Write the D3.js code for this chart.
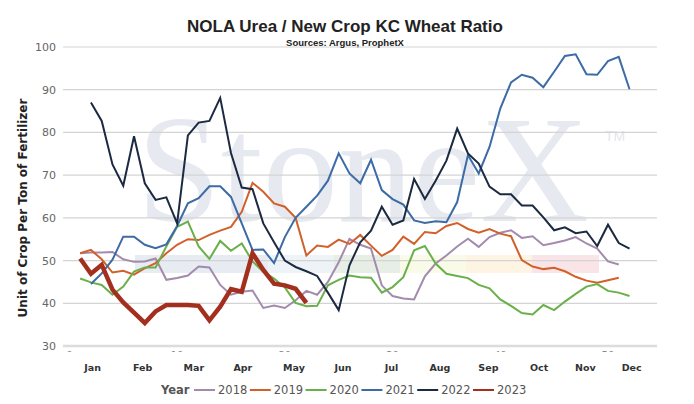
<!DOCTYPE html>
<html>
<head>
<meta charset="utf-8">
<script src="https://cdn.jsdelivr.net/npm/d3@7"></script>
<style>
body { margin: 0; background: #fff; }
text { font-family: "DejaVu Sans", Verdana, sans-serif; }
</style>
</head>
<body>
<svg id="chart"></svg>
<script>
// DATA - weekly ratio, one array per year
var years = ["2018", "2019", "2020", "2021", "2022", "2023"];
var firstWeek = [1, 1, 1, 2, 2, 1];

var ratio2018 = [51.7, 51.9, 51.9, 52.0, 50.3, 49.7, 49.8, 50.5, 45.5, 45.9, 46.5, 48.6, 48.4, 44.3, 42.0, 42.7, 43.0, 38.9, 39.5, 38.9,
	40.7, 42.9, 42.0, 45.0, 49.6, 55.1, 53.7, 52.8, 44.2, 41.7, 41.1, 40.9, 46.3, 49.3, 51.2, 53.3, 55.1, 53.2, 55.5, 56.5,
	57.1, 55.3, 55.7, 53.6, 54.1, 54.7, 55.5, 54.0, 52.8, 49.8, 49.1];
var ratio2019 = [51.7, 52.5, 50.3, 47.2, 47.6, 46.7, 48.2, 49.4, 51.7, 53.7, 55.0, 54.8, 56.0, 57.0, 57.9, 61.4, 68.2, 66.1, 63.4, 62.6,
	60.0, 51.2, 53.5, 53.2, 54.9, 53.9, 56.0, 53.5, 51.1, 52.5, 55.6, 53.9, 56.7, 56.4, 58.1, 58.8, 57.4, 56.5, 57.4, 56.3,
	55.7, 50.1, 48.6, 48.0, 48.3, 47.5, 46.2, 45.3, 44.8, 45.4, 46.0];
var ratio2020 = [45.8, 44.9, 44.3, 42.0, 43.9, 47.4, 48.4, 48.4, 53.3, 57.9, 59.1, 53.3, 50.4, 54.6, 52.3, 54.0, 49.8, 47.4, 45.8, 43.7,
	40.1, 39.3, 39.4, 44.2, 45.5, 46.5, 46.1, 46.0, 42.5, 43.8, 46.1, 52.4, 53.4, 49.3, 46.9, 46.4, 45.9, 44.3, 43.5, 40.9,
	39.4, 37.7, 37.4, 39.6, 38.4, 40.4, 42.2, 43.9, 44.5, 42.9, 42.5, 41.7];
var ratio2021 = [44.5, 47.0, 50.2, 55.6, 55.6, 53.7, 52.9, 53.8, 58.1, 63.4, 64.6, 67.4, 67.4, 64.9, 58.7, 52.5, 52.6, 49.4, 55.5,
	60.0, 62.6, 65.2, 68.7, 75.1, 70.4, 68.1, 73.6, 66.5, 64.4, 63.1, 59.4, 58.8, 59.2, 59.0, 63.7, 74.7, 70.4, 76.6, 85.6,
	91.7, 93.5, 92.8, 90.6, 94.2, 97.9, 98.3, 93.6, 93.5, 96.7, 97.7, 90.1];
var ratio2022 = [87.0, 82.7, 72.5, 67.5, 79.1, 68.1, 64.2, 64.8, 58.7, 79.3, 82.3, 82.7, 88.1, 75.2, 67.1, 66.7, 58.7, 54.3, 50.0,
	48.5, 47.5, 46.4, 42.5, 38.4, 48.9, 54.3, 57.0, 62.6, 58.4, 59.4, 69.1, 64.4, 68.7, 73.4, 80.9, 75.1, 72.7, 67.3, 65.5,
	65.5, 62.9, 62.9, 60.1, 57.1, 57.8, 56.4, 56.8, 53.4, 58.4, 54.1, 52.8];
var ratio2023 = [50.5, 46.9, 49.0, 43.2, 40.2, 37.8, 35.4, 38.1, 39.6, 39.6, 39.6, 39.4, 36.0, 39.2, 43.3, 42.7, 51.7, 47.8, 44.6, 44.2,
	43.4, 40.1];

var seriesValues = [ratio2018, ratio2019, ratio2020, ratio2021, ratio2022, ratio2023];

// AXIS LABELS
var monthLabels = ["Jan", "Feb", "Mar", "Apr", "May", "Jun", "Jul", "Aug", "Sep", "Oct", "Nov", "Dec"];
var monthWeeks = [2.15, 6.8, 11.55, 16.1, 20.85, 25.4, 29.9, 34.4, 38.9, 43.6, 47.9, 52.2];
var weekTicks = [0, 10, 20, 30, 40, 50];
var yTicks = [30, 40, 50, 60, 70, 80, 90, 100];

var colors = ["#a38bad", "#d2602b", "#6ab04a", "#3c6ba5", "#1b2a40", "#a3301f"];
var widths = [2, 2, 2, 2, 2, 4.5];

// DRAWING AREA
var W = 694, H = 404;
var plotLeft = 69.4, plotRight = 657, plotTop = 47, plotBottom = 346;

var svg = d3.select("#chart").attr("width", W).attr("height", H);

var xScale = d3.scaleLinear().domain([0, 54.55]).range([plotLeft, plotRight]);
var yScale = d3.scaleLinear().domain([30, 100]).range([plotBottom, plotTop]);

// WATERMARK
var wm = svg.append("g").attr("class", "watermark");
wm.append("text")
	.attr("x", 137).attr("y", 221)
	.attr("textLength", 452).attr("lengthAdjust", "spacingAndGlyphs")
	.style("font-family", "'Liberation Serif', 'DejaVu Serif', serif")
	.style("font-size", "153px")
	.style("fill", "#e6e9ef")
	.text("StoneX");
wm.append("text")
	.attr("x", 605).attr("y", 141)
	.style("font-family", "'Liberation Sans', Arial, sans-serif")
	.style("font-size", "14px")
	.style("fill", "#e3e6eb")
	.text("TM");
var bandCols = ["#e7ebf2", "#eef3f8", "#e6eee6", "#fafae9", "#fdf4e4", "#f9e5e8"];
var bandX = [135, 268, 334, 400, 466, 532, 599];
bandCols.forEach(function (c, i) {
	wm.append("rect")
		.attr("x", bandX[i]).attr("y", 255)
		.attr("width", bandX[i + 1] - bandX[i]).attr("height", 18)
		.style("fill", c);
});

// GRIDLINES + Y LABELS
svg.append("g").selectAll("line.grid")
	.data(yTicks)
	.enter().append("line")
	.attr("class", "grid")
	.attr("x1", 63).attr("x2", plotRight)
	.attr("y1", d => yScale(d)).attr("y2", d => yScale(d))
	.style("stroke", d => d == 30 ? "#dcdcdc" : "#d4d4d4")
	.style("stroke-width", d => d == 30 ? 2.5 : 1.2);

svg.append("g").selectAll("text.ylab")
	.data(yTicks)
	.enter().append("text")
	.attr("class", "ylab")
	.attr("x", 56).attr("y", d => yScale(d) + 4)
	.style("text-anchor", "end")
	.style("font-size", "11px")
	.style("fill", "#666")
	.text(d => d);

// hidden week numbers, only their tops peek out under the axis
svg.append("clipPath").attr("id", "weekclip")
	.append("rect").attr("x", 0).attr("y", 348).attr("width", W).attr("height", 4);
svg.append("g").attr("clip-path", "url(#weekclip)")
	.selectAll("text")
	.data(weekTicks)
	.enter().append("text")
	.attr("x", d => xScale(d)).attr("y", 359)
	.style("text-anchor", "middle")
	.style("font-size", "10px")
	.style("fill", "#888")
	.text(d => d);

// MONTH LABELS
svg.append("g").selectAll("text.month")
	.data(monthLabels)
	.enter().append("text")
	.attr("class", "month")
	.attr("x", (d, i) => xScale(monthWeeks[i])).attr("y", 371)
	.style("text-anchor", "middle")
	.style("font-size", "9.5px")
	.style("font-weight", "bold")
	.style("fill", "#333")
	.text(d => d);

// LINES
var line = d3.line()
	.x(d => xScale(d.w))
	.y(d => yScale(d.v));

var lineData = years.map(function (yr, k) {
	return seriesValues[k].map(function (v, i) { return { w: firstWeek[k] + i, v: v }; });
});

svg.append("g").selectAll("path.year")
	.data(lineData)
	.enter().append("path")
	.attr("class", "year")
	.attr("d", line)
	.style("fill", "none")
	.style("stroke", (d, i) => colors[i])
	.style("stroke-width", (d, i) => widths[i])
	.style("stroke-linejoin", "miter");

// TITLES
svg.append("text")
	.attr("x", 345).attr("y", 32)
	.style("text-anchor", "middle")
	.style("font-family", "'Liberation Sans', Arial, sans-serif")
	.style("font-size", "17px")
	.style("font-weight", "bold")
	.style("fill", "#222")
	.text("NOLA Urea / New Crop KC Wheat Ratio");

svg.append("text")
	.attr("x", 345).attr("y", 46)
	.style("text-anchor", "middle")
	.style("font-family", "'Liberation Sans', Arial, sans-serif")
	.style("font-size", "9.5px")
	.style("font-weight", "bold")
	.style("fill", "#222")
	.text("Sources: Argus, ProphetX");

svg.append("text")
	.attr("transform", "translate(27,208) rotate(-90)")
	.style("text-anchor", "middle")
	.style("font-size", "12px")
	.style("font-weight", "bold")
	.style("fill", "#222")
	.text("Unit of Crop Per Ton of Fertilizer");

// LEGEND
var legend = svg.append("g").attr("transform", "translate(0,394)");
legend.append("text")
	.attr("x", 161).attr("y", 0)
	.style("font-size", "11.5px")
	.style("font-weight", "bold")
	.style("fill", "#555")
	.text("Year");
var items = legend.selectAll("g.item")
	.data(years)
	.enter().append("g")
	.attr("class", "item")
	.attr("transform", (d, i) => "translate(" + (194 + i * 55.8) + ",0)");
items.append("line")
	.attr("x1", 0).attr("x2", 21).attr("y1", -4).attr("y2", -4)
	.style("stroke", (d, i) => colors[i])
	.style("stroke-width", 2);
items.append("text")
	.attr("x", 24).attr("y", 0)
	.style("font-size", "11.5px")
	.style("fill", "#555")
	.text(d => d);
</script>
</body>
</html>
